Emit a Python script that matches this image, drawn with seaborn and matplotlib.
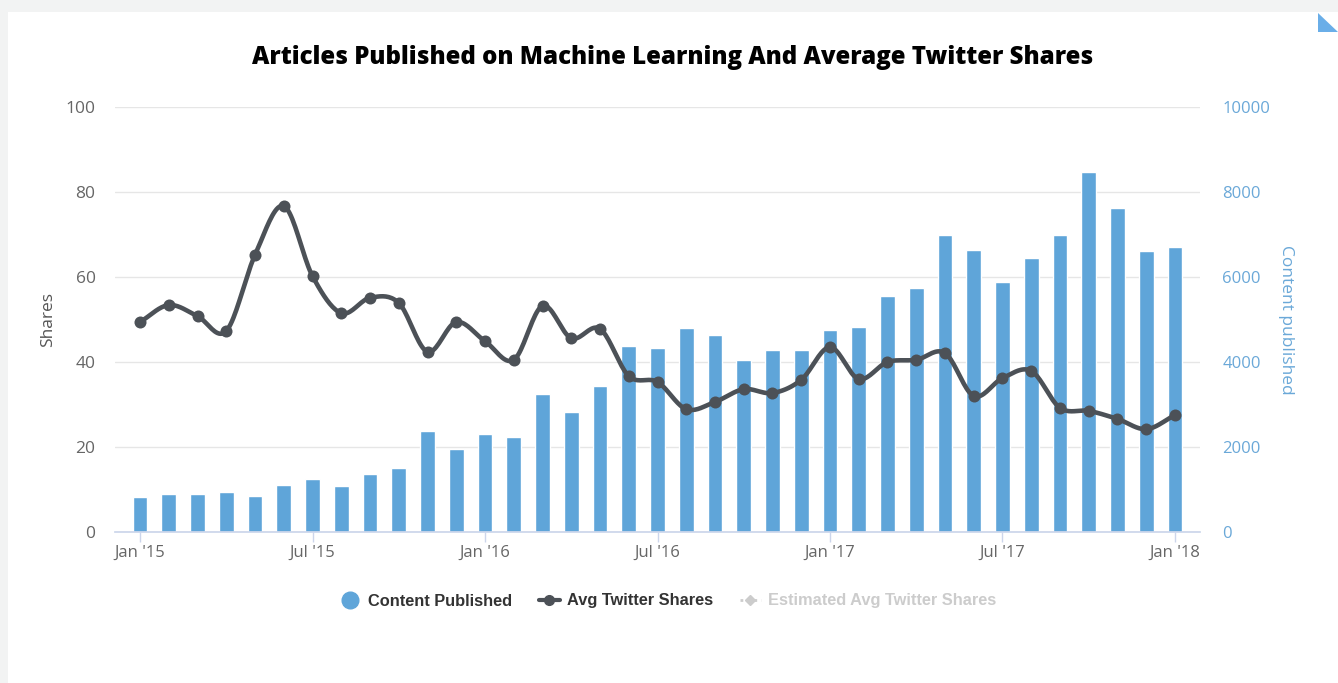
import numpy as np
import pandas as pd
import matplotlib
matplotlib.use("Agg")
import matplotlib.pyplot as plt
from matplotlib.lines import Line2D
from matplotlib.patches import Rectangle, Polygon
import seaborn as sns

# ---------------- data ----------------
months = ["Jan '15", "Feb '15", "Mar '15", "Apr '15", "May '15", "Jun '15", "Jul '15", "Aug '15",
          "Sep '15", "Oct '15", "Nov '15", "Dec '15", "Jan '16", "Feb '16", "Mar '16", "Apr '16",
          "May '16", "Jun '16", "Jul '16", "Aug '16", "Sep '16", "Oct '16", "Nov '16", "Dec '16",
          "Jan '17", "Feb '17", "Mar '17", "Apr '17", "May '17", "Jun '17", "Jul '17", "Aug '17",
          "Sep '17", "Oct '17", "Nov '17", "Dec '17", "Jan '18"]
content_published = [820, 890, 890, 940, 850, 1105, 1245, 1080, 1365, 1505, 2375, 1955, 2305, 2235,
                     3245, 2825, 3435, 4375, 4330, 4800, 4635, 4045, 4280, 4280, 4755, 4825, 5560,
                     5730, 6985, 6640, 5885, 6445, 6985, 8480, 7630, 6605, 6700]
avg_twitter_shares = [49.4, 53.4, 50.8, 47.3, 65.2, 76.7, 60.2, 51.5, 55.1, 53.9, 42.4, 49.4, 44.9,
                      40.5, 53.2, 45.6, 47.8, 36.7, 35.3, 28.9, 30.6, 33.6, 32.7, 35.8, 43.5, 36.0,
                      40.0, 40.5, 42.1, 32.0, 36.2, 37.9, 29.2, 28.5, 26.6, 24.2, 27.5]
tick_labels = ["Jan '15", "Jul '15", "Jan '16", "Jul '16", "Jan '17", "Jul '17", "Jan '18"]
left_ticks = [0, 20, 40, 60, 80, 100]
right_ticks = [0, 2000, 4000, 6000, 8000, 10000]

title = "Articles Published on Machine Learning And Average Twitter Shares"

BAR = "#5fa5d9"
LINE = "#4c5157"
TICK = "#666666"
RBLUE = "#6aa8d8"

df = pd.DataFrame({"month": months, "content": content_published, "shares": avg_twitter_shares})
df["pos"] = np.arange(len(df))

sns.set_theme(style="white")
plt.rcParams["font.family"] = ["Open Sans", "DejaVu Sans"]

W, H = 1338, 683
fig = plt.figure(figsize=(W / 100, H / 100), dpi=100)
fig.patch.set_facecolor("#f2f3f3")
# white card
fig.patches.append(Rectangle((8 / W, 0), 1 - 8 / W, 1 - 12 / H, transform=fig.transFigure,
                             facecolor="white", edgecolor="none", zorder=-10))
fig.patches.append(Polygon([(1318 / W, 1 - 13 / H), (1318 / W, 1 - 32 / H), (1338 / W, 1 - 32 / H)],
                           closed=True, transform=fig.transFigure, facecolor="#6aaee8",
                           edgecolor="none", zorder=-5))

ax = fig.add_axes([115 / W, 1 - 532 / H, (1200 - 115) / W, (532 - 107) / H])
ax.set_facecolor("none")
ax.set_zorder(1)
ax2 = ax.twinx()
ax2.set_zorder(2)
ax2.set_facecolor("none")

# bars (content published) on ax, ticks on the right
sns.barplot(data=df, x="pos", y="content", ax=ax, color=BAR, width=0.52, saturation=1,
            order=list(range(len(df))), zorder=2)
ax.set_ylim(0, 10000)
ax.set_xlim(-0.87, len(df) - 1 + 0.87)
ax.yaxis.tick_right()
ax.yaxis.set_label_position("right")
ax.set_yticks(right_ticks)
ax.set_yticklabels([str(v) for v in right_ticks], color=RBLUE, fontsize=12)
ax.set_ylabel("Content published", color=RBLUE, fontsize=12.5, rotation=270, labelpad=17)
ax.grid(axis="y", color="#e6e6e6", linewidth=1, zorder=0)
ax.set_axisbelow(True)

# x ticks
tick_pos = [months.index(t) for t in tick_labels]
ax.set_xticks(tick_pos)
ax.set_xticklabels(tick_labels, color=TICK, fontsize=12)
ax.set_xlabel("")
ax.tick_params(axis="x", length=7, color="#ccd6eb", width=1, pad=2, direction="out", bottom=True)
ax.tick_params(axis="y", length=0, pad=16)

for s in ["top", "left", "right"]:
    ax.spines[s].set_visible(False)
    ax2.spines[s].set_visible(False)
ax.spines["bottom"].set_color("#ccd6eb")
ax2.spines["bottom"].set_visible(False)

# smooth spline path for the line (Catmull-Rom through the data points)
x = df["pos"].to_numpy(dtype=float)
y = df["shares"].to_numpy(dtype=float)
px = np.concatenate([[2 * x[0] - x[1]], x, [2 * x[-1] - x[-2]]])
py = np.concatenate([[2 * y[0] - y[1]], y, [2 * y[-1] - y[-2]]])
sx, sy = [], []
t = np.linspace(0, 1, 20, endpoint=False)
for i in range(1, len(px) - 2):
    for arr, out in ((px, sx), (py, sy)):
        p0, p1, p2, p3 = arr[i - 1], arr[i], arr[i + 1], arr[i + 2]
        out.extend(0.5 * ((2 * p1) + (-p0 + p2) * t + (2 * p0 - 5 * p1 + 4 * p2 - p3) * t ** 2
                          + (-p0 + 3 * p1 - 3 * p2 + p3) * t ** 3))
sx.append(x[-1]); sy.append(y[-1])
ax2.plot(sx, sy, color=LINE, linewidth=3.3, solid_capstyle="round", zorder=3)
sns.scatterplot(data=df, x="pos", y="shares", ax=ax2, color=LINE, s=75, edgecolor=LINE,
                linewidth=0, zorder=4, legend=False)

ax2.set_ylim(0, 100)
ax2.set_xlim(-0.87, len(df) - 1 + 0.87)
ax2.yaxis.tick_left()
ax2.yaxis.set_label_position("left")
ax2.set_yticks(left_ticks)
ax2.set_yticklabels([str(v) for v in left_ticks], color=TICK, fontsize=12.5)
ax2.set_ylabel("Shares", color="#555555", fontsize=12.5, labelpad=7)
ax2.tick_params(axis="y", length=0, pad=14)
ax2.set_xlabel("")
ax2.grid(False)

fig.text(673 / W, 1 - 58 / H, title, ha="center", va="center", fontsize=17.3,
         fontweight=800, color="black")

handles = [
    Line2D([], [], linestyle="none", marker="o", markersize=12, color=BAR),
    Line2D([], [], color=LINE, linewidth=3, marker="o", markersize=7),
    Line2D([], [], color="#cccccc", linewidth=2, linestyle=(0, (1, 1.5)), marker="D", markersize=5),
]
labels = ["Content Published", "Avg Twitter Shares", "Estimated Avg Twitter Shares"]
leg = fig.legend(handles, labels, loc="center", bbox_to_anchor=(668 / W, 1 - 601 / H), ncol=3,
                 frameon=False, handlelength=1.3, handletextpad=0.45, columnspacing=1.6,
                 prop={"family": ["Liberation Sans", "DejaVu Sans"], "weight": "bold", "size": 11.8})
for txt, c in zip(leg.get_texts(), ["#333333", "#333333", "#cccccc"]):
    txt.set_color(c)

fig.savefig("out.png", dpi=100, facecolor=fig.get_facecolor())
